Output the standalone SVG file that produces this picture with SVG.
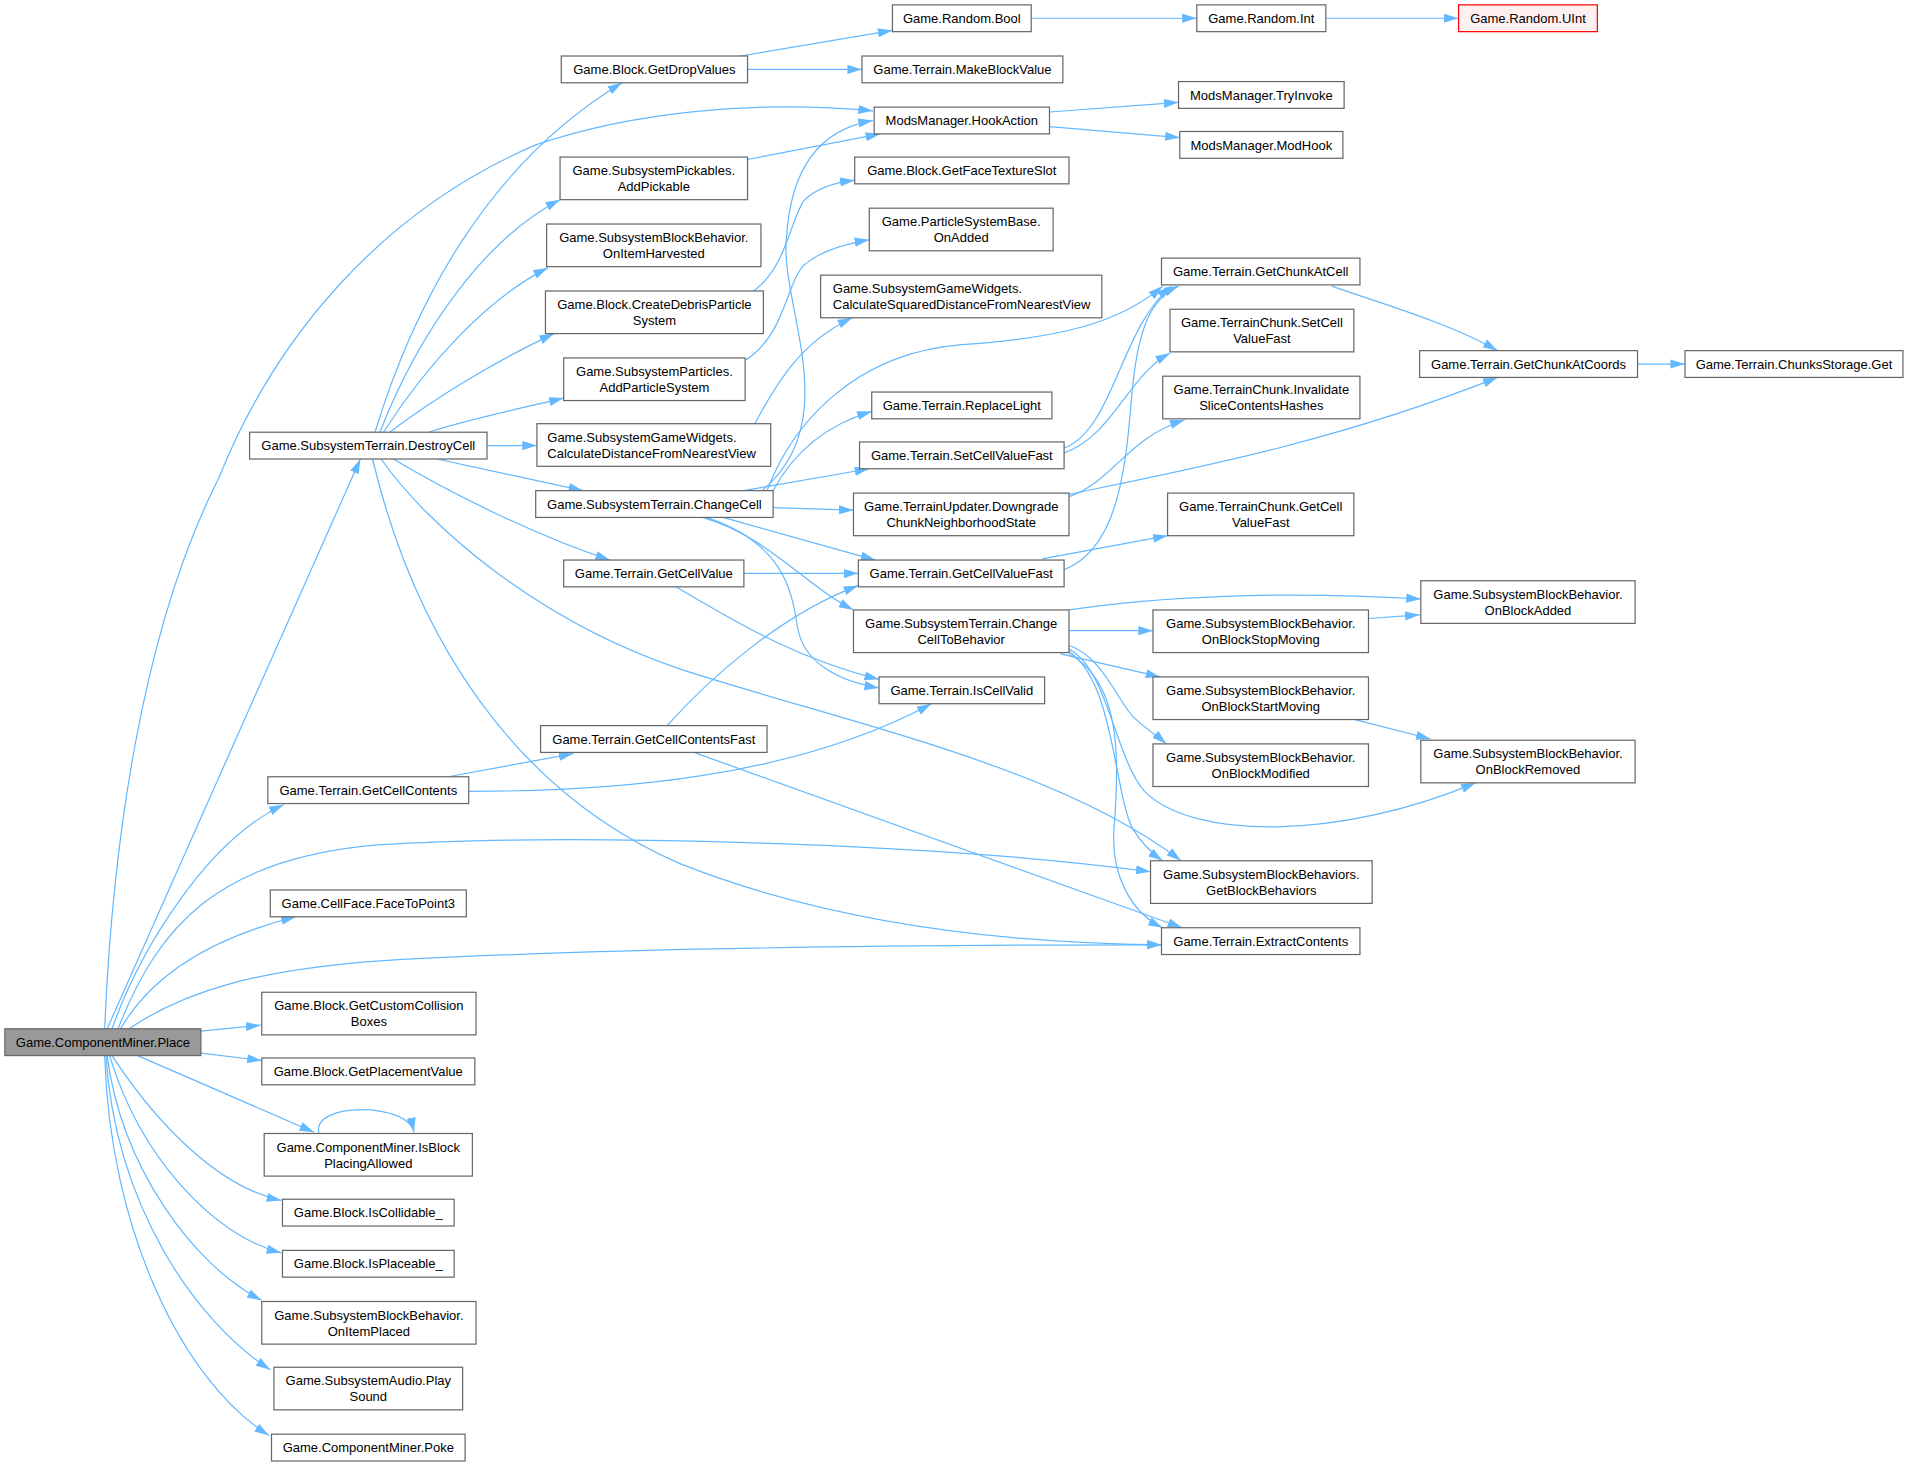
<svg xmlns="http://www.w3.org/2000/svg" width="1909" height="1467" viewBox="0 0 1909 1467">
<style>
.n rect{fill:#fff;stroke:#666;stroke-width:1}
.n text{font-family:"Liberation Sans",Arial,Helvetica,sans-serif;font-size:10.68px;fill:#000;text-anchor:middle}
.n text.l{text-anchor:start}
#root rect{fill:#999}
#n35 rect{fill:#fff0f0;stroke:#f00}
#edges path{fill:none;stroke:#63b8ff;stroke-width:1;marker-end:url(#a)}
</style>
<defs>
<marker id="a" markerUnits="userSpaceOnUse" markerWidth="12" markerHeight="8" refX="12" refY="3.75" orient="auto" viewBox="0 0 12 7.5"><path d="M0,0 L12,3.75 L0,7.5 z" fill="#63b8ff"/></marker>
</defs>
<rect width="1909" height="1467" fill="#fff"/>
<g transform="scale(1.2175)">
<g id="edges">
<path d="M88,845 L296,377"/>
<path d="M86,845 C92,700 115,520 180,392 C225,280 310,175 440,119 C520,92 620,82 717,91"/>
<path d="M92,845 C115,780 170,690 233,661"/>
<path d="M97,845 C130,760 180,705 310,694 C450,685 750,690 945,716"/>
<path d="M99,845 C125,800 175,770 243,753"/>
<path d="M106,845 C150,815 210,795 330,788 C550,777 800,776 954,776"/>
<path d="M165,847 L214,842"/>
<path d="M165,865 L215,871"/>
<path d="M113,867 L258,930"/>
<path d="M92,867 C130,925 180,975 231,986"/>
<path d="M90,867 C115,950 175,1015 231,1029"/>
<path d="M88,867 C100,960 160,1040 215,1068"/>
<path d="M87,867 C95,990 160,1085 222,1125"/>
<path d="M86,867 C90,1010 150,1135 221,1179"/>
<path d="M262,931 C255,905 335,905 340,930"/>
<path d="M308,355 C340,250 400,135 511,68"/>
<path d="M312,355 C345,270 400,195 460,164"/>
<path d="M315,355 C350,300 400,245 450,220"/>
<path d="M320,355 C360,325 410,295 455,274"/>
<path d="M352,355 C390,343 430,335 463,327"/>
<path d="M400,366 L441,366"/>
<path d="M359,377 L479,403"/>
<path d="M323,377 C370,405 440,440 501,460"/>
<path d="M313,377 C350,430 440,510 560,550 C700,595 870,630 970,707"/>
<path d="M306,377 C340,520 420,650 560,710 C700,765 850,775 954,776"/>
<path d="M626,403 C695,345 640,250 646,195 C650,130 680,105 717,99"/>
<path d="M630,403 C650,350 700,290 790,283 C870,278 920,265 955,235"/>
<path d="M635,403 C650,375 675,350 716,338"/>
<path d="M611,403 L714,385"/>
<path d="M635,417 L701,419"/>
<path d="M594,425 L719,460"/>
<path d="M577,425 C630,440 660,480 701,501"/>
<path d="M580,425 C640,445 650,480 655,515 C660,545 690,560 722,565"/>
<path d="M620,348 C640,310 660,280 700,261"/>
<path d="M612,296 C645,275 645,235 660,218 C675,205 695,200 714,197"/>
<path d="M619,239 C645,220 648,185 660,165 C670,155 685,150 702,148"/>
<path d="M614,131 L723,110"/>
<path d="M608,46 L733,25"/>
<path d="M614,57 L708,57"/>
<path d="M862,92 L968,84"/>
<path d="M862,104 L969,113"/>
<path d="M847,15 L983,15"/>
<path d="M1089,15 L1198,15"/>
<path d="M1094,235 C1130,248 1190,265 1230,288"/>
<path d="M1345,299 L1384,299"/>
<path d="M878,406 C980,385 1100,362 1230,310"/>
<path d="M878,408 C915,395 925,360 973,345"/>
<path d="M874,368 C915,352 920,270 962,235"/>
<path d="M874,372 C915,357 925,310 961,290"/>
<path d="M874,468 C920,450 925,380 930,320 C935,270 945,245 968,235"/>
<path d="M856,459 L959,440"/>
<path d="M611,471 L705,471"/>
<path d="M555,482 C600,508 650,540 722,558"/>
<path d="M548,596 C580,560 640,505 705,481"/>
<path d="M570,618 L971,762"/>
<path d="M368,638 L471,619"/>
<path d="M385,650 C500,650 650,640 765,578"/>
<path d="M878,501 C950,490 1050,485 1167,492"/>
<path d="M878,518 L947,518"/>
<path d="M871,537 L953,556"/>
<path d="M878,530 C905,540 915,570 930,588 C940,598 950,604 958,611"/>
<path d="M878,533 C910,550 915,620 940,650 C980,690 1100,690 1212,643"/>
<path d="M878,535 C915,560 915,650 930,680 C937,692 945,700 955,707"/>
<path d="M878,537 C920,560 920,620 915,680 C912,720 930,750 955,762"/>
<path d="M1124,508 L1166,505"/>
<path d="M1113,591 L1175,607"/>
</g>
<g id="root" class="n"><rect x="4" y="845" width="161" height="22"/><text x="84.5" y="859.8">Game.ComponentMiner.Place</text></g>
<g id="n2" class="n"><rect x="205" y="355" width="195" height="22"/><text x="302.5" y="369.8">Game.SubsystemTerrain.DestroyCell</text></g>
<g id="n3" class="n"><rect x="220" y="638" width="165" height="22"/><text x="302.5" y="652.8">Game.Terrain.GetCellContents</text></g>
<g id="n4" class="n"><rect x="222" y="731" width="161" height="22"/><text x="302.5" y="745.8">Game.CellFace.FaceToPoint3</text></g>
<g id="n5" class="n"><rect x="215" y="815" width="176" height="35"/><text x="303" y="829.8">Game.Block.GetCustomCollision</text><text x="303" y="843.1">Boxes</text></g>
<g id="n6" class="n"><rect x="215" y="869" width="175" height="22"/><text x="302.5" y="883.8">Game.Block.GetPlacementValue</text></g>
<g id="n7" class="n"><rect x="217" y="931" width="171" height="35"/><text x="302.5" y="945.8">Game.ComponentMiner.IsBlock</text><text x="302.5" y="959.1">PlacingAllowed</text></g>
<g id="n8" class="n"><rect x="232" y="985" width="141" height="22"/><text x="302.5" y="999.8">Game.Block.IsCollidable_</text></g>
<g id="n9" class="n"><rect x="232" y="1027" width="141" height="22"/><text x="302.5" y="1041.8">Game.Block.IsPlaceable_</text></g>
<g id="n10" class="n"><rect x="215" y="1069" width="176" height="35"/><text x="303" y="1083.8">Game.SubsystemBlockBehavior.</text><text x="303" y="1097.1">OnItemPlaced</text></g>
<g id="n11" class="n"><rect x="225" y="1123" width="155" height="35"/><text x="302.5" y="1137.8">Game.SubsystemAudio.Play</text><text x="302.5" y="1151.1">Sound</text></g>
<g id="n12" class="n"><rect x="223" y="1178" width="159" height="22"/><text x="302.5" y="1192.8">Game.ComponentMiner.Poke</text></g>
<g id="n13" class="n"><rect x="461" y="46" width="153" height="22"/><text x="537.5" y="60.8">Game.Block.GetDropValues</text></g>
<g id="n14" class="n"><rect x="460" y="129" width="154" height="35"/><text x="537" y="143.8">Game.SubsystemPickables.</text><text x="537" y="157.1">AddPickable</text></g>
<g id="n15" class="n"><rect x="449" y="184" width="176" height="35"/><text x="537" y="198.8">Game.SubsystemBlockBehavior.</text><text x="537" y="212.1">OnItemHarvested</text></g>
<g id="n16" class="n"><rect x="448" y="239" width="179" height="35"/><text x="537.5" y="253.8">Game.Block.CreateDebrisParticle</text><text x="537.5" y="267.1">System</text></g>
<g id="n17" class="n"><rect x="463" y="294" width="149" height="35"/><text x="537.5" y="308.8">Game.SubsystemParticles.</text><text x="537.5" y="322.1">AddParticleSystem</text></g>
<g id="n18" class="n"><rect x="441" y="348" width="192" height="35"/><text class="l" x="449.5" y="362.8">Game.SubsystemGameWidgets.</text><text class="l" x="449.5" y="376.1">CalculateDistanceFromNearestView</text></g>
<g id="n19" class="n"><rect x="440" y="403" width="195" height="22"/><text x="537.5" y="417.8">Game.SubsystemTerrain.ChangeCell</text></g>
<g id="n20" class="n"><rect x="463" y="460" width="148" height="22"/><text x="537" y="474.8">Game.Terrain.GetCellValue</text></g>
<g id="n21" class="n"><rect x="444" y="596" width="186" height="22"/><text x="537" y="610.8">Game.Terrain.GetCellContentsFast</text></g>
<g id="n22" class="n"><rect x="733" y="4" width="114" height="22"/><text x="790" y="18.8">Game.Random.Bool</text></g>
<g id="n23" class="n"><rect x="708" y="46" width="165" height="22"/><text x="790.5" y="60.8">Game.Terrain.MakeBlockValue</text></g>
<g id="n24" class="n"><rect x="718" y="88" width="144" height="22"/><text x="790" y="102.8">ModsManager.HookAction</text></g>
<g id="n25" class="n"><rect x="702" y="129" width="176" height="22"/><text x="790" y="143.8">Game.Block.GetFaceTextureSlot</text></g>
<g id="n26" class="n"><rect x="714" y="171" width="151" height="35"/><text x="789.5" y="185.8">Game.ParticleSystemBase.</text><text x="789.5" y="199.1">OnAdded</text></g>
<g id="n27" class="n"><rect x="674" y="226" width="231" height="35"/><text class="l" x="684" y="240.8">Game.SubsystemGameWidgets.</text><text class="l" x="684" y="254.1">CalculateSquaredDistanceFromNearestView</text></g>
<g id="n28" class="n"><rect x="716" y="322" width="148" height="22"/><text x="790" y="336.8">Game.Terrain.ReplaceLight</text></g>
<g id="n29" class="n"><rect x="706" y="363" width="168" height="22"/><text x="790" y="377.8">Game.Terrain.SetCellValueFast</text></g>
<g id="n30" class="n"><rect x="701" y="405" width="177" height="35"/><text x="789.5" y="419.8">Game.TerrainUpdater.Downgrade</text><text x="789.5" y="433.1">ChunkNeighborhoodState</text></g>
<g id="n31" class="n"><rect x="705" y="460" width="169" height="22"/><text x="789.5" y="474.8">Game.Terrain.GetCellValueFast</text></g>
<g id="n32" class="n"><rect x="701" y="501" width="177" height="35"/><text x="789.5" y="515.8">Game.SubsystemTerrain.Change</text><text x="789.5" y="529.1">CellToBehavior</text></g>
<g id="n33" class="n"><rect x="722" y="556" width="136" height="22"/><text x="790" y="570.8">Game.Terrain.IsCellValid</text></g>
<g id="n34" class="n"><rect x="983" y="4" width="106" height="22"/><text x="1036" y="18.8">Game.Random.Int</text></g>
<g id="n35" class="n"><rect x="1198" y="4" width="114" height="22"/><text x="1255" y="18.8">Game.Random.UInt</text></g>
<g id="n36" class="n"><rect x="968" y="67" width="136" height="22"/><text x="1036" y="81.8">ModsManager.TryInvoke</text></g>
<g id="n37" class="n"><rect x="969" y="108" width="134" height="22"/><text x="1036" y="122.8">ModsManager.ModHook</text></g>
<g id="n38" class="n"><rect x="954" y="212" width="163" height="22"/><text x="1035.5" y="226.8">Game.Terrain.GetChunkAtCell</text></g>
<g id="n39" class="n"><rect x="961" y="254" width="151" height="35"/><text x="1036.5" y="268.8">Game.TerrainChunk.SetCell</text><text x="1036.5" y="282.1">ValueFast</text></g>
<g id="n40" class="n"><rect x="955" y="309" width="162" height="35"/><text x="1036" y="323.8">Game.TerrainChunk.Invalidate</text><text x="1036" y="337.1">SliceContentsHashes</text></g>
<g id="n41" class="n"><rect x="959" y="405" width="153" height="35"/><text x="1035.5" y="419.8">Game.TerrainChunk.GetCell</text><text x="1035.5" y="433.1">ValueFast</text></g>
<g id="n42" class="n"><rect x="947" y="501" width="177" height="35"/><text x="1035.5" y="515.8">Game.SubsystemBlockBehavior.</text><text x="1035.5" y="529.1">OnBlockStopMoving</text></g>
<g id="n43" class="n"><rect x="947" y="556" width="177" height="35"/><text x="1035.5" y="570.8">Game.SubsystemBlockBehavior.</text><text x="1035.5" y="584.1">OnBlockStartMoving</text></g>
<g id="n44" class="n"><rect x="947" y="611" width="177" height="35"/><text x="1035.5" y="625.8">Game.SubsystemBlockBehavior.</text><text x="1035.5" y="639.1">OnBlockModified</text></g>
<g id="n45" class="n"><rect x="945" y="707" width="182" height="35"/><text x="1036" y="721.8">Game.SubsystemBlockBehaviors.</text><text x="1036" y="735.1">GetBlockBehaviors</text></g>
<g id="n46" class="n"><rect x="954" y="762" width="163" height="22"/><text x="1035.5" y="776.8">Game.Terrain.ExtractContents</text></g>
<g id="n47" class="n"><rect x="1166" y="288" width="179" height="22"/><text x="1255.5" y="302.8">Game.Terrain.GetChunkAtCoords</text></g>
<g id="n48" class="n"><rect x="1384" y="288" width="179" height="22"/><text x="1473.5" y="302.8">Game.Terrain.ChunksStorage.Get</text></g>
<g id="n49" class="n"><rect x="1167" y="477" width="176" height="35"/><text x="1255" y="491.8">Game.SubsystemBlockBehavior.</text><text x="1255" y="505.1">OnBlockAdded</text></g>
<g id="n50" class="n"><rect x="1167" y="608" width="176" height="35"/><text x="1255" y="622.8">Game.SubsystemBlockBehavior.</text><text x="1255" y="636.1">OnBlockRemoved</text></g>
</g>
</svg>
